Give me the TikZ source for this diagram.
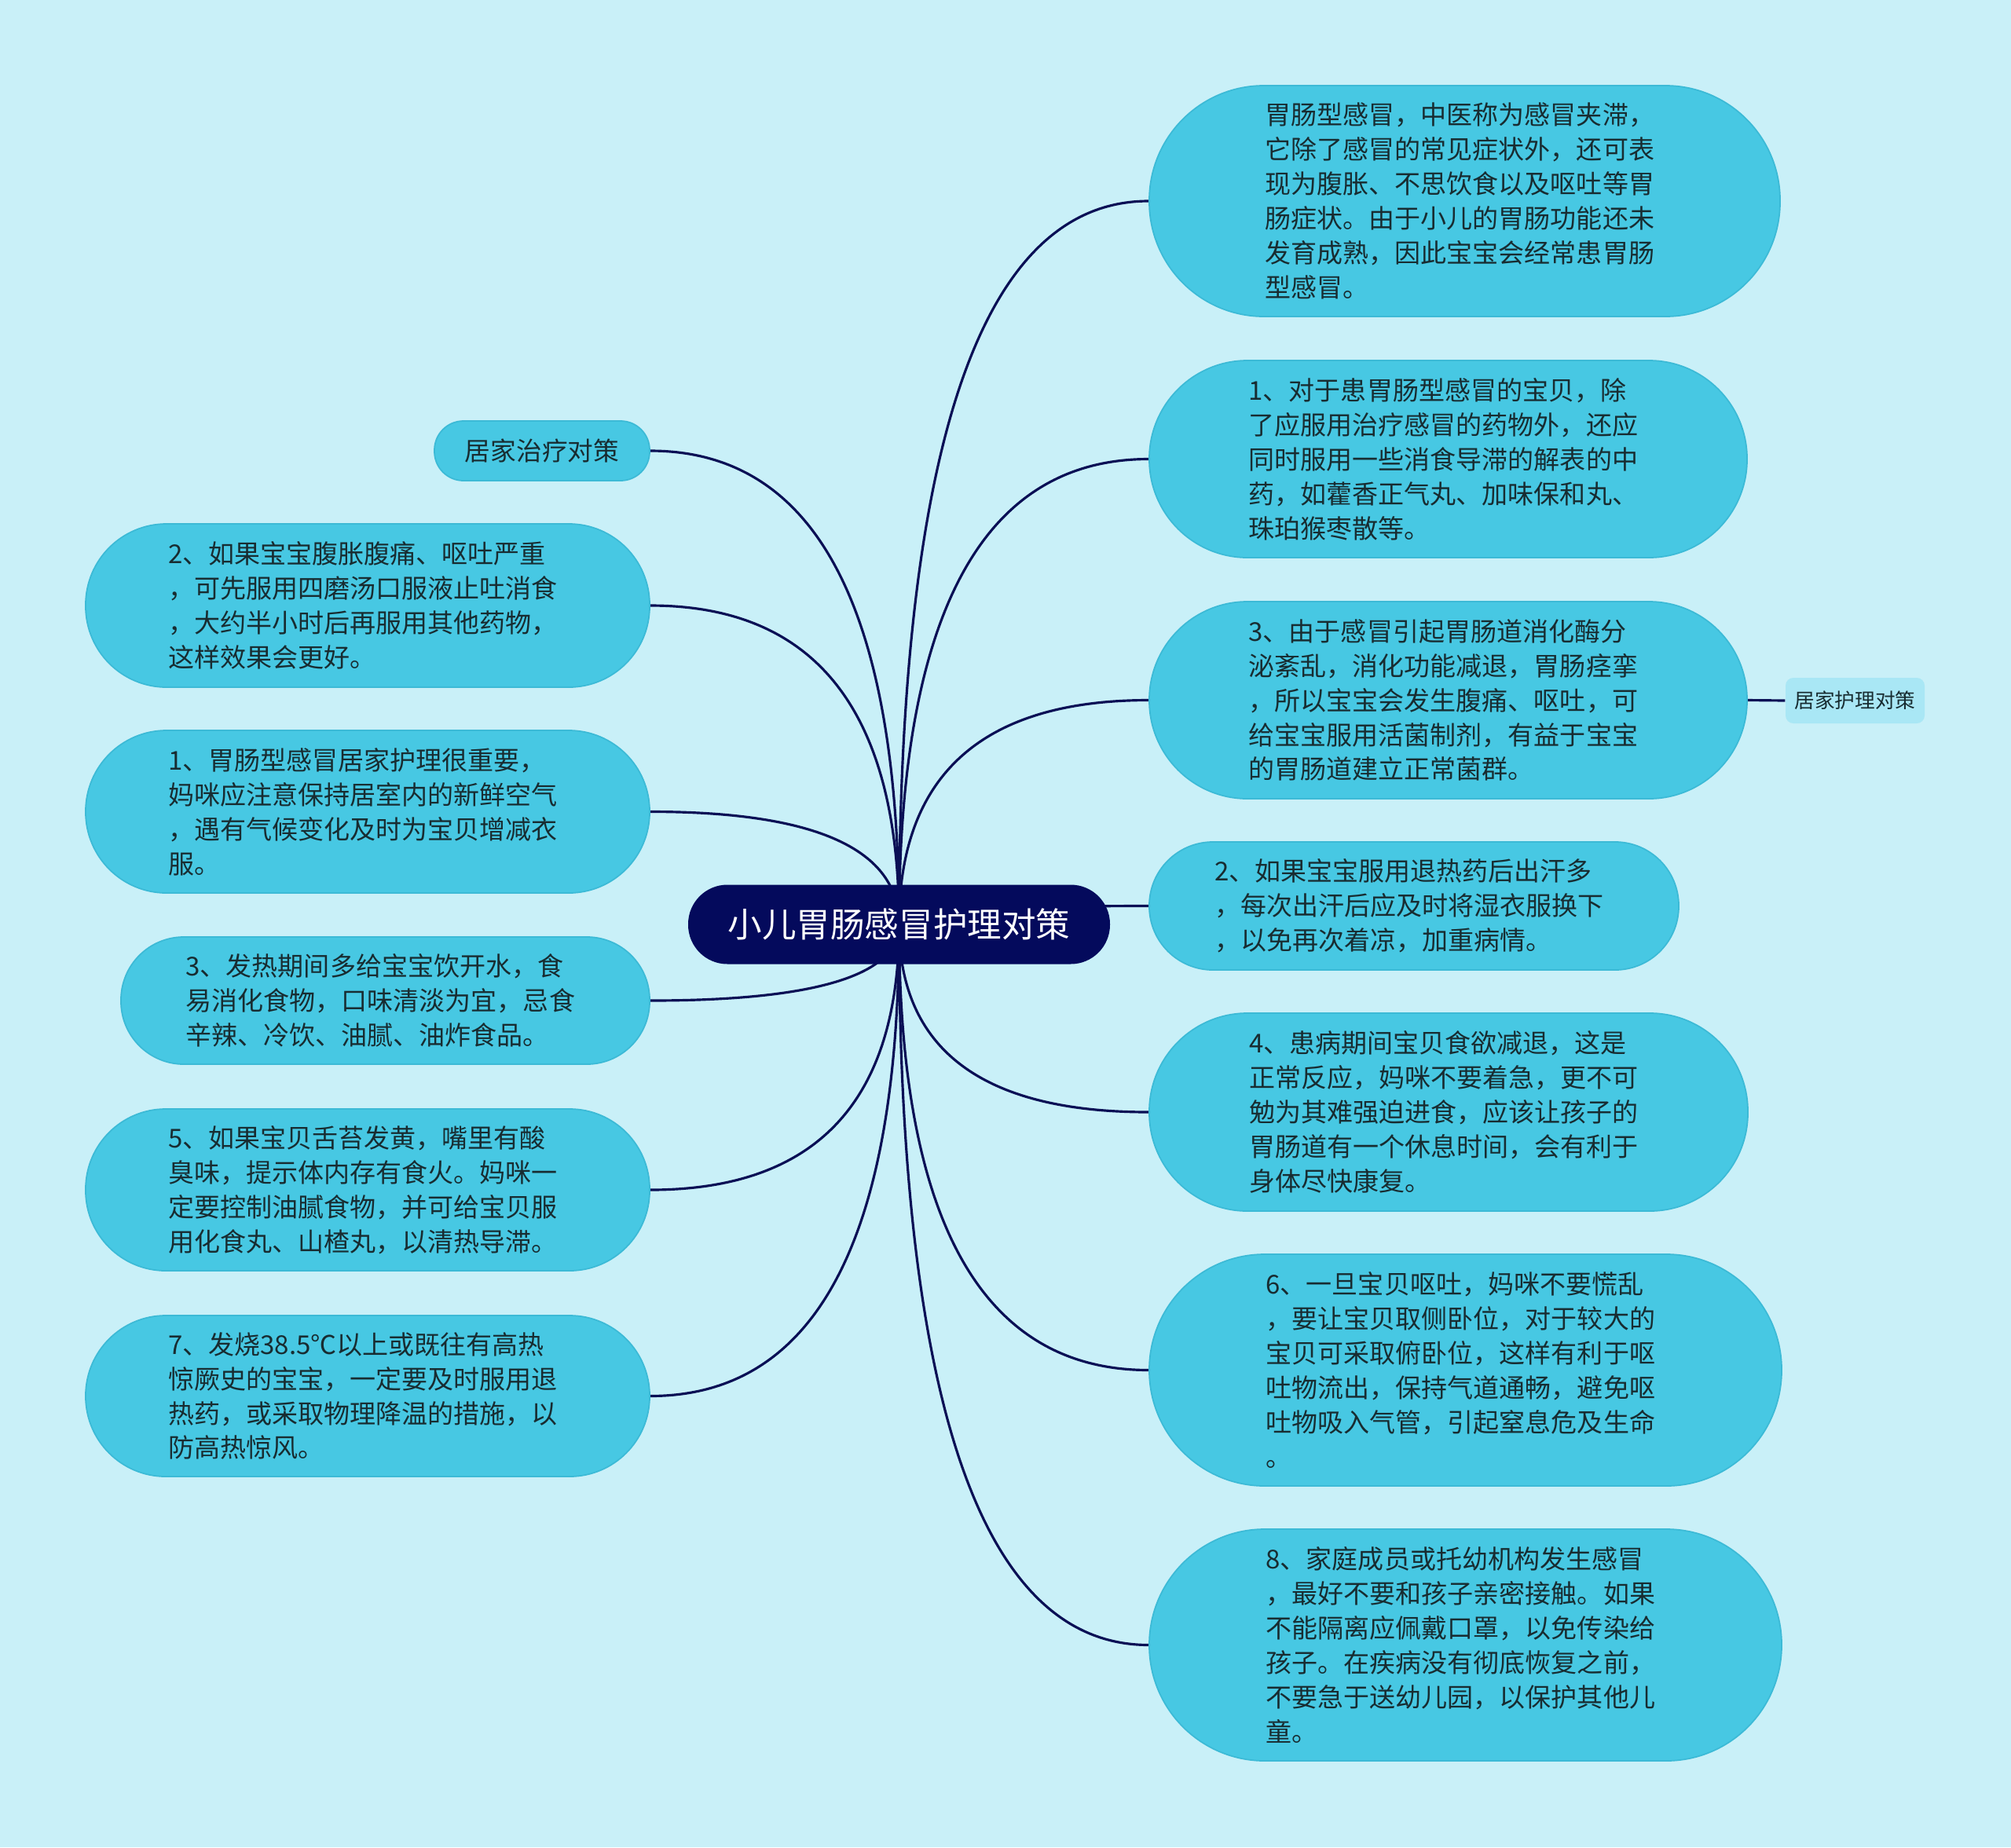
\documentclass[tikz,border=0pt]{standalone}
\usepackage{fontspec}
\newfontfamily\cjk{Noto Sans CJK SC}
\usetikzlibrary{calc}
\definecolor{bgc}{HTML}{C9F0F8}
\definecolor{leaffill}{HTML}{47C8E3}
\definecolor{leafdraw}{HTML}{3CBAD6}
\definecolor{rootfill}{HTML}{040A5C}
\definecolor{linec}{HTML}{0A0F55}
\definecolor{txt}{HTML}{182C31}
\definecolor{smallfill}{HTML}{A9E7F5}
\newcommand\mmleaffont{\cjk\fontsize{9.4pt}{12.5pt}\selectfont}
\newcommand\mmlink[2]{\draw[conn] (#1) .. controls ($(#1)!0.6667!(#1 |- #2)$) and ($(#2)!0.6667!(#1 |- #2)$) .. (#2);}
\pgfdeclarelayer{back}
\pgfdeclarelayer{lines}
\pgfsetlayers{back,lines,main}
\begin{document}
\begin{tikzpicture}[
  leaf/.style={rectangle, rounded corners=#1, fill=leaffill, draw=leafdraw, line width=0.5pt,
    text=txt, font=\mmleaffont, align=left, inner sep=0pt},
  bigleaf/.style={leaf=#1, text width=5.08cm},
  rootbox/.style={rectangle, rounded corners=0.5cm, fill=rootfill, draw=none, text=white,
    font=\cjk\fontsize{12.4pt}{15pt}\selectfont, inner sep=0pt},
  smallbox/.style={rectangle, rounded corners=0.1cm, fill=smallfill, draw=none, text=txt,
    font=\cjk\fontsize{7.3pt}{9pt}\selectfont, inner sep=0pt},
  conn/.style={draw=linec, line width=0.9pt}
]
\begin{pgfonlayer}{back}
\fill[bgc] (0,0) rectangle (25.6,-23.52);
\end{pgfonlayer}
\useasboundingbox (0,0) rectangle (25.6,-23.52);

% root
\node[rootbox, minimum width=5.37cm, minimum height=1.01cm] (c) at (11.445,-11.77) {小儿胃肠感冒护理对策};

% right side
\node[bigleaf=1.46cm, minimum width=8.03cm, minimum height=2.94cm] (r1) at (18.645,-2.56)
 {胃肠型感冒，中医称为感冒夹滞，\\它除了感冒的常见症状外，还可表\\现为腹胀、不思饮食以及呕吐等胃\\肠症状。由于小儿的胃肠功能还未\\发育成熟，因此宝宝会经常患胃肠\\型感冒。};
\node[bigleaf=1.25cm, minimum width=7.61cm, minimum height=2.51cm] (r2) at (18.435,-5.845)
 {1、对于患胃肠型感冒的宝贝，除\\了应服用治疗感冒的药物外，还应\\同时服用一些消食导滞的解表的中\\药，如藿香正气丸、加味保和丸、\\珠珀猴枣散等。};
\node[bigleaf=1.25cm, minimum width=7.61cm, minimum height=2.51cm] (r3) at (18.435,-8.915)
 {3、由于感冒引起胃肠道消化酶分\\泌紊乱，消化功能减退，胃肠痉挛\\，所以宝宝会发生腹痛、呕吐，可\\给宝宝服用活菌制剂，有益于宝宝\\的胃肠道建立正常菌群。};
\node[smallbox, minimum width=1.77cm, minimum height=0.58cm] (s1) at (23.615,-8.92) {居家护理对策};
\node[bigleaf=0.81cm, minimum width=6.74cm, minimum height=1.63cm] (r4) at (18.0,-11.535)
 {2、如果宝宝服用退热药后出汗多\\，每次出汗后应及时将湿衣服换下\\，以免再次着凉，加重病情。};
\node[bigleaf=1.25cm, minimum width=7.62cm, minimum height=2.52cm] (r5) at (18.44,-14.16)
 {4、患病期间宝贝食欲减退，这是\\正常反应，妈咪不要着急，更不可\\勉为其难强迫进食，应该让孩子的\\胃肠道有一个休息时间，会有利于\\身体尽快康复。};
\node[bigleaf=1.47cm, minimum width=8.05cm, minimum height=2.95cm] (r6) at (18.655,-17.445)
 {6、一旦宝贝呕吐，妈咪不要慌乱\\，要让宝贝取侧卧位，对于较大的\\宝贝可采取俯卧位，这样有利于呕\\吐物流出，保持气道通畅，避免呕\\吐物吸入气管，引起窒息危及生命\\。};
\node[bigleaf=1.47cm, minimum width=8.05cm, minimum height=2.95cm] (r7) at (18.655,-20.945)
 {8、家庭成员或托幼机构发生感冒\\，最好不要和孩子亲密接触。如果\\不能隔离应佩戴口罩，以免传染给\\孩子。在疾病没有彻底恢复之前，\\不要急于送幼儿园，以保护其他儿\\童。};

% left side
\node[leaf=0.37cm, minimum width=2.74cm, minimum height=0.76cm, font=\cjk\fontsize{9.3pt}{11pt}\selectfont] (l0) at (6.90,-5.74) {居家治疗对策};
\node[bigleaf=1.03cm, minimum width=7.18cm, minimum height=2.08cm] (l1) at (4.68,-7.71)
 {2、如果宝宝腹胀腹痛、呕吐严重\\，可先服用四磨汤口服液止吐消食\\，大约半小时后再服用其他药物，\\这样效果会更好。};
\node[bigleaf=1.03cm, minimum width=7.18cm, minimum height=2.07cm] (l2) at (4.68,-10.335)
 {1、胃肠型感冒居家护理很重要，\\妈咪应注意保持居室内的新鲜空气\\，遇有气候变化及时为宝贝增减衣\\服。};
\node[bigleaf=0.80cm, minimum width=6.73cm, minimum height=1.62cm] (l3) at (4.905,-12.74)
 {3、发热期间多给宝宝饮开水，食\\易消化食物，口味清淡为宜，忌食\\辛辣、冷饮、油腻、油炸食品。};
\node[bigleaf=1.02cm, minimum width=7.18cm, minimum height=2.06cm] (l4) at (4.68,-15.15)
 {5、如果宝贝舌苔发黄，嘴里有酸\\臭味，提示体内存有食火。妈咪一\\定要控制油腻食物，并可给宝贝服\\用化食丸、山楂丸，以清热导滞。};
\node[bigleaf=1.02cm, minimum width=7.18cm, minimum height=2.05cm] (l5) at (4.68,-17.775)
 {7、发烧38.5℃以上或既往有高热\\惊厥史的宝宝，一定要及时服用退\\热药，或采取物理降温的措施，以\\防高热惊风。};

\begin{pgfonlayer}{lines}
\mmlink{c.center}{r1.west}
\mmlink{c.center}{r2.west}
\mmlink{c.center}{r3.west}
\mmlink{c.center}{r4.west}
\mmlink{c.center}{r5.west}
\mmlink{c.center}{r6.west}
\mmlink{c.center}{r7.west}
\mmlink{c.center}{l0.east}
\mmlink{c.center}{l1.east}
\mmlink{c.center}{l2.east}
\mmlink{c.center}{l3.east}
\mmlink{c.center}{l4.east}
\mmlink{c.center}{l5.east}
\draw[conn] (r3.east) -- (s1.west);
\end{pgfonlayer}
\end{tikzpicture}
\end{document}
